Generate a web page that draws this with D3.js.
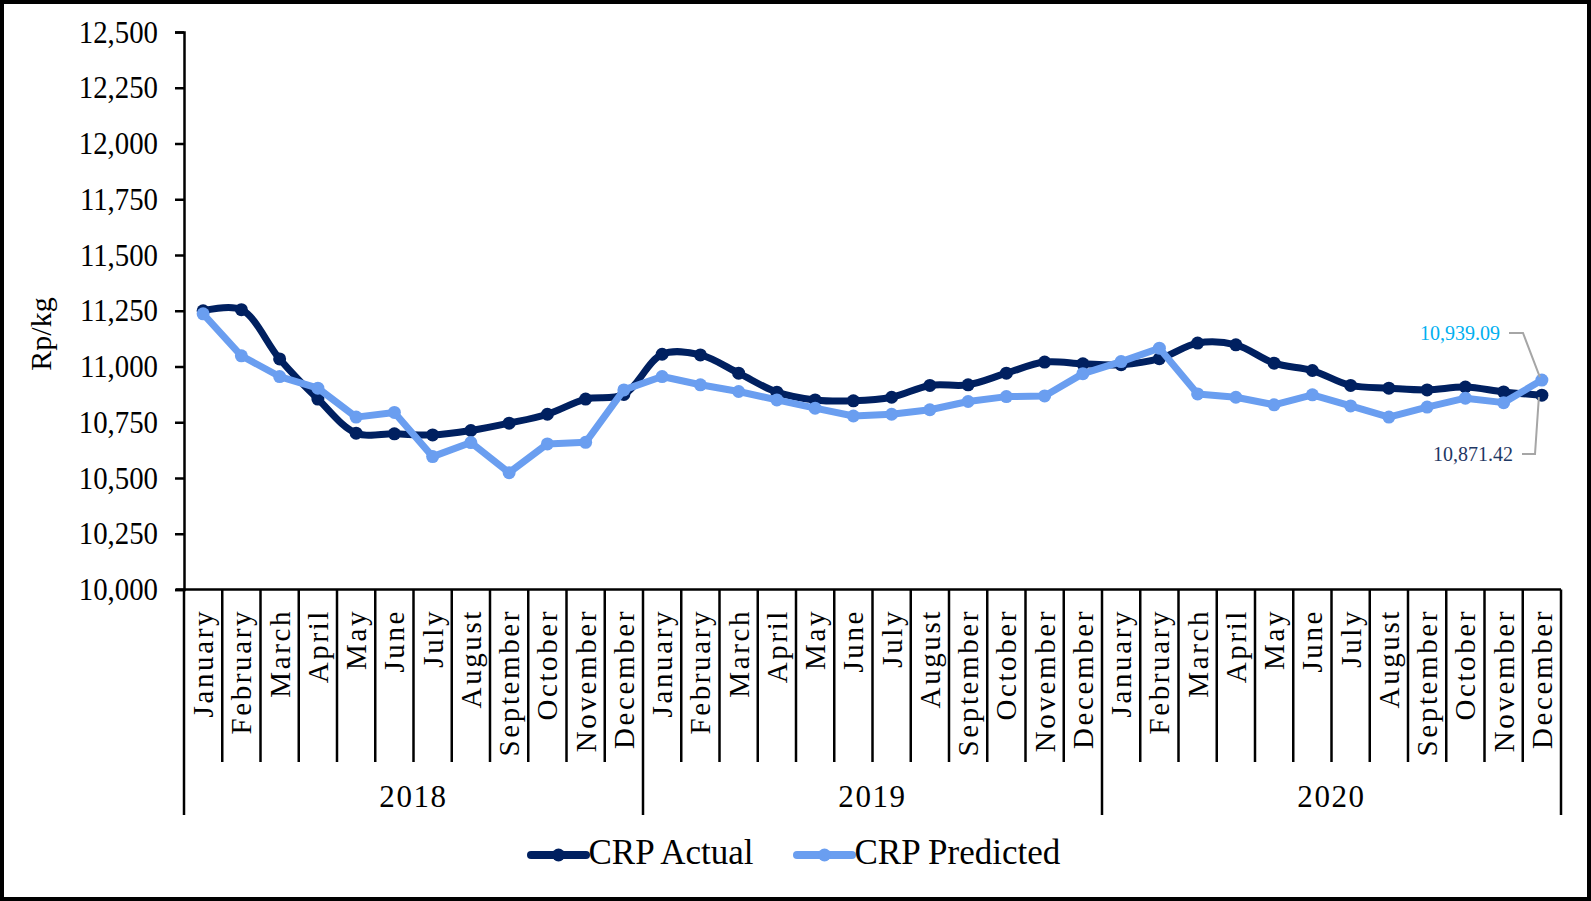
<!DOCTYPE html>
<html>
<head>
<meta charset="utf-8">
<script src="https://cdnjs.cloudflare.com/ajax/libs/d3/7.8.5/d3.min.js"></script>
<style>
  body { margin: 0; background: #fff; }
  svg { display: block; font-family: "Liberation Serif", "Times New Roman", serif; }
</style>
</head>
<body>
<script>
var months = ["January","February","March","April","May","June","July","August","September","October","November","December"];
var years = ["2018","2019","2020"];
var yTicks = [10000,10250,10500,10750,11000,11250,11500,11750,12000,12250,12500];

// CRP actual, Jan 2018 .. Dec 2020
var actual = [11250,11255,11034,10854,10701,10698,10693,10713,10746,10786,10854,10875,
              11055,11052,10970,10885,10850,10846,10862,10915,10918,10970,11020,11012,
              11008,11035,11105,11097,11015,10982,10915,10903,10895,10908,10886,10871.42];
// CRP predicted
var predicted = [11236,11048,10955,10903,10773,10794,10596,10659,10524,10653,10660,10895,
                 10955,10918,10888,10850,10813,10778,10786,10806,10843,10865,10868,10968,
                 11022,11082,10877,10862,10828,10873,10823,10773,10818,10858,10838,10939.09];

var W = 1591, H = 901;
var navy = "#002060", light = "#6A9EF0";

var svg = d3.select("body").append("svg")
  .attr("width", W)
  .attr("height", H);

svg.append("rect")
  .attr("x", 2).attr("y", 2)
  .attr("width", W - 4).attr("height", H - 4)
  .attr("fill", "#fff")
  .attr("stroke", "#000")
  .attr("stroke-width", 4);

var x = d3.scaleBand().domain(d3.range(36)).range([184, 1561]);
var y = d3.scaleLinear().domain([10000, 12500]).range([589.5, 32]);
var cx = function(i){ return x(i) + x.bandwidth() / 2; };

// y axis
var sx = 0.9; // tick text in the picture is a bit narrow and tall
var yAxis = svg.append("g")
  .attr("transform", "translate(184,0)")
  .call(d3.axisLeft(y).tickValues(yTicks).tickSize(9).tickPadding(16).tickFormat(d3.format(",")));
yAxis.select(".domain").attr("stroke", "#000").attr("stroke-width", 2.5);
yAxis.selectAll(".tick line").attr("stroke", "#000").attr("stroke-width", 2.5);
yAxis.selectAll(".tick text")
  .attr("font-size", 32)
  .attr("font-family", "Liberation Serif")
  .attr("fill", "#000")
  .attr("x", -26 / sx)
  .attr("transform", "scale(" + sx + ",1)");

svg.append("text")
  .attr("transform", "translate(51,334) rotate(-90)")
  .attr("text-anchor", "middle")
  .attr("font-size", 30)
  .text("Rp/kg");

// x axis line
svg.append("line")
  .attr("x1", 176).attr("x2", 1561)
  .attr("y1", y(10000)).attr("y2", y(10000))
  .attr("stroke", "#000").attr("stroke-width", 2.5);

// category separators
var bounds = d3.range(37);
svg.append("g").selectAll("line")
  .data(bounds)
  .join("line")
  .attr("x1", function(d){ return x.range()[0] + d * x.bandwidth(); })
  .attr("x2", function(d){ return x.range()[0] + d * x.bandwidth(); })
  .attr("y1", y(10000))
  .attr("y2", function(d){ return d % 12 == 0 ? 815 : 762; })
  .attr("stroke", "#000")
  .attr("stroke-width", 2.5);

// month labels
svg.append("g").selectAll("text")
  .data(d3.range(36))
  .join("text")
  .attr("transform", function(i){ return "translate(" + (cx(i) + 10) + ",609) rotate(-90)"; })
  .attr("text-anchor", "end")
  .attr("font-size", 29)
  .attr("letter-spacing", 2.6)
  .text(function(i){ return months[i % 12]; });

// year labels
svg.append("g").selectAll("text")
  .data(years)
  .join("text")
  .attr("x", function(d, i){ return x.range()[0] + (i * 12 + 6) * x.bandwidth(); })
  .attr("y", 807)
  .attr("text-anchor", "middle")
  .attr("font-size", 31)
  .attr("letter-spacing", 1.6)
  .text(function(d){ return d; });

// lines
var lineSmooth = d3.line()
  .x(function(d, i){ return cx(i); })
  .y(function(d){ return y(d); })
  .curve(d3.curveCatmullRom.alpha(0.5));
var lineStraight = d3.line()
  .x(function(d, i){ return cx(i); })
  .y(function(d){ return y(d); });

svg.append("path")
  .datum(actual)
  .attr("d", lineSmooth)
  .attr("fill", "none")
  .attr("stroke", navy)
  .attr("stroke-width", 7)
  .attr("stroke-linejoin", "round");
svg.append("g").selectAll("circle")
  .data(actual)
  .join("circle")
  .attr("cx", function(d, i){ return cx(i); })
  .attr("cy", function(d){ return y(d); })
  .attr("r", 6.5)
  .attr("fill", navy);

svg.append("path")
  .datum(predicted)
  .attr("d", lineStraight)
  .attr("fill", "none")
  .attr("stroke", light)
  .attr("stroke-width", 7)
  .attr("stroke-linejoin", "round");
svg.append("g").selectAll("circle")
  .data(predicted)
  .join("circle")
  .attr("cx", function(d, i){ return cx(i); })
  .attr("cy", function(d){ return y(d); })
  .attr("r", 6.5)
  .attr("fill", light);

// data labels for last points
var lastX = cx(35);
var fmt = d3.format(",.2f");
svg.append("path")
  .attr("d", "M1509,333H1523L" + (lastX - 2) + "," + (y(predicted[35]) - 3))
  .attr("fill", "none").attr("stroke", "#A6A6A6").attr("stroke-width", 2);
svg.append("text")
  .attr("x", 1500).attr("y", 340)
  .attr("text-anchor", "end")
  .attr("font-size", 20)
  .attr("fill", "#00B0F0")
  .text(fmt(predicted[35]));

svg.append("path")
  .attr("d", "M1522,454H1535L" + (lastX - 3) + "," + (y(actual[35]) + 2))
  .attr("fill", "none").attr("stroke", "#A6A6A6").attr("stroke-width", 2);
svg.append("text")
  .attr("x", 1513).attr("y", 461)
  .attr("text-anchor", "end")
  .attr("font-size", 20)
  .attr("fill", "#1F3864")
  .text(fmt(actual[35]));

// legend
var legend = [{name: "CRP Actual", color: navy, x: 531}, {name: "CRP Predicted", color: light, x: 797}];
var lg = svg.append("g").selectAll("g")
  .data(legend)
  .join("g")
  .attr("transform", function(d){ return "translate(" + d.x + ",855)"; });
lg.append("line")
  .attr("x1", 0).attr("x2", 55)
  .attr("stroke", function(d){ return d.color; })
  .attr("stroke-width", 8)
  .attr("stroke-linecap", "round");
lg.append("circle")
  .attr("cx", 27.5).attr("r", 6.5)
  .attr("fill", function(d){ return d.color; });
lg.append("text")
  .attr("x", 57.5).attr("y", 9)
  .attr("font-size", 35)
  .text(function(d){ return d.name; });
</script>
</body>
</html>
